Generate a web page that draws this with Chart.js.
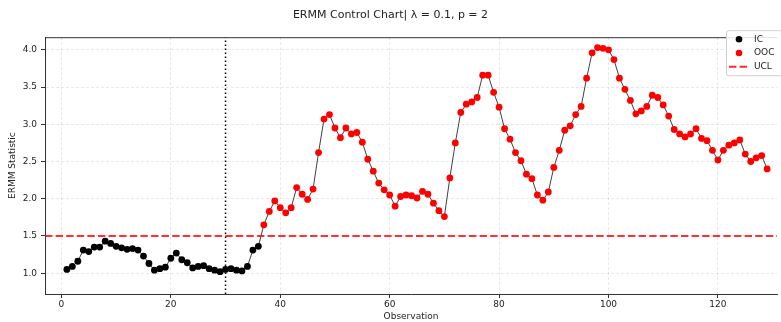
<!DOCTYPE html>
<html>
<head>
<meta charset="utf-8">
<script src="https://cdn.jsdelivr.net/npm/chart.js@4.4.1/dist/chart.umd.min.js"></script>
<style>
html, body { margin: 0; padding: 0; background: #fff; }
</style>
</head>
<body>
<canvas id="ermmChart" width="781" height="322"></canvas>
<script>
// ERMM statistic per observation (obs 1..129)
const ermm = [
  1.05, 1.09, 1.16, 1.31, 1.29, 1.35, 1.35, 1.43, 1.40, 1.36,
  1.34, 1.32, 1.33, 1.31, 1.23, 1.13, 1.04, 1.06, 1.08, 1.20,
  1.27, 1.18, 1.14, 1.07, 1.09, 1.10, 1.06, 1.04, 1.02, 1.05,
  1.06, 1.04, 1.03, 1.09, 1.31, 1.36, 1.65, 1.83, 1.97, 1.88,
  1.81, 1.88, 2.15, 2.06, 1.99, 2.13, 2.62, 3.07, 3.13, 2.95,
  2.82, 2.95, 2.87, 2.89, 2.76, 2.53, 2.37, 2.21, 2.12, 2.05,
  1.90, 2.03, 2.05, 2.04, 2.01, 2.10, 2.06, 1.94, 1.84, 1.76,
  2.28, 2.75, 3.16, 3.27, 3.30, 3.36, 3.66, 3.66, 3.43, 3.23,
  2.94, 2.80, 2.62, 2.51, 2.33, 2.27, 2.05, 1.98, 2.09, 2.42,
  2.65, 2.92, 2.98, 3.13, 3.24, 3.62, 3.96, 4.03, 4.02, 4.00,
  3.87, 3.62, 3.47, 3.32, 3.14, 3.18, 3.24, 3.39, 3.36, 3.26,
  3.11, 2.93, 2.87, 2.83, 2.87, 2.94, 2.81, 2.78, 2.65, 2.52,
  2.65, 2.72, 2.75, 2.79, 2.60, 2.50, 2.55, 2.58, 2.40
];
const ucl = 1.5;
const changePoint = 30;
const xTicks = [0, 20, 40, 60, 80, 100, 120];
const yTicks = [1.0, 1.5, 2.0, 2.5, 3.0, 3.5, 4.0];
const xMin = -3, xMax = 130.8;
const yMin = 0.72, yMax = 4.17;

const pts = ermm.map((v, i) => ({ x: i + 1, y: v }));
const icPts = pts.filter(p => p.y <= ucl);
const oocPts = pts.filter(p => p.y > ucl);

Chart.defaults.font.family = 'DejaVu Sans';
Chart.defaults.color = '#222';

// matplotlib-like framed legend + top spine
const boxLegend = {
  id: 'boxLegend',
  afterDraw(chart) {
    const c = chart.ctx;
    const a = chart.chartArea;
    c.save();
    c.strokeStyle = '#333';
    c.lineWidth = 1;
    c.beginPath();
    c.moveTo(a.left, a.top + 0.5);
    c.lineTo(a.right, a.top + 0.5);
    c.stroke();

    const x0 = a.right - 51, y0 = a.top - 7, w = 60, h = 45;
    c.fillStyle = 'rgba(255,255,255,0.85)';
    c.strokeStyle = '#d0d0d0';
    c.beginPath();
    c.roundRect(x0 + 0.5, y0 + 0.5, w, h, 2);
    c.fill();
    c.stroke();

    c.font = '9px DejaVu Sans';
    c.textBaseline = 'middle';
    c.fillStyle = '#222';
    const rows = [
      { label: 'IC', kind: 'dot', color: '#000' },
      { label: 'OOC', kind: 'dot', color: '#ff0000' },
      { label: 'UCL', kind: 'dash', color: 'rgba(255,0,0,0.85)' }
    ];
    rows.forEach((r, i) => {
      const yy = y0 + 9 + i * 13.8;
      if (r.kind === 'dot') {
        c.fillStyle = r.color;
        c.beginPath();
        c.arc(x0 + 13, yy, 3.3, 0, Math.PI * 2);
        c.fill();
      } else {
        c.strokeStyle = r.color;
        c.lineWidth = 2;
        c.setLineDash([7.4, 3.2]);
        c.beginPath();
        c.moveTo(x0 + 3, yy);
        c.lineTo(x0 + 22, yy);
        c.stroke();
        c.setLineDash([]);
      }
      c.fillStyle = '#222';
      c.fillText(r.label, x0 + 28, yy);
    });
    c.restore();
  }
};

const ctx = document.getElementById('ermmChart').getContext('2d');
const ermmChart = new Chart(ctx, {
  type: 'scatter',
  data: {
    datasets: [
      {
        label: 'UCL',
        data: [{ x: xMin, y: ucl }, { x: xMax, y: ucl }],
        showLine: true,
        borderColor: 'rgba(255,0,0,0.8)',
        borderWidth: 2,
        borderDash: [7.4, 3.2],
        pointRadius: 0,
        order: 0
      },
      {
        label: 'change',
        data: [{ x: changePoint, y: yMin }, { x: changePoint, y: yMax }],
        showLine: true,
        borderColor: '#000',
        borderWidth: 1.5,
        borderDash: [1.5, 2.5],
        pointRadius: 0,
        order: 0
      },
      {
        label: 'IC',
        data: icPts,
        backgroundColor: '#000',
        borderWidth: 0,
        pointRadius: 3.4,
        order: 1
      },
      {
        label: 'OOC',
        data: oocPts,
        backgroundColor: '#ff0000',
        borderWidth: 0,
        pointRadius: 3.4,
        order: 1
      },
      {
        label: 'ERMM',
        data: pts,
        showLine: true,
        borderColor: 'rgba(0,0,0,0.75)',
        borderWidth: 1,
        pointRadius: 0,
        order: 2
      }
    ]
  },
  options: {
    responsive: false,
    animation: false,
    layout: { padding: { left: 0, right: 0, top: 0, bottom: 0 } },
    plugins: {
      legend: { display: false },
      tooltip: { enabled: false },
      title: {
        display: true,
        text: 'ERMM Control Chart| λ = 0.1, p = 2',
        font: { size: 11, weight: 'normal' },
        color: '#222',
        padding: { top: 9, bottom: 15 }
      }
    },
    scales: {
      x: {
        type: 'linear',
        min: xMin,
        max: xMax,
        afterBuildTicks: s => { s.ticks = xTicks.map(v => ({ value: v })); },
        afterFit: s => { s.height = 28; },
        grid: { color: 'rgba(0,0,0,0.09)', tickColor: '#333', tickLength: 4 },
        border: { color: '#333', width: 1, dash: [3, 2] },
        ticks: { font: { size: 9 }, color: '#222', padding: 1, maxRotation: 0 },
        title: { display: true, text: 'Observation', font: { size: 9 }, color: '#222', padding: 0 }
      },
      y: {
        type: 'linear',
        min: yMin,
        max: yMax,
        afterBuildTicks: s => { s.ticks = yTicks.map(v => ({ value: v })); },
        afterFit: s => { s.width = 45; },
        grid: { color: 'rgba(0,0,0,0.09)', tickColor: '#333', tickLength: 4 },
        border: { color: '#333', width: 1, dash: [3, 2] },
        ticks: { font: { size: 9 }, color: '#222', padding: 4, callback: v => v.toFixed(1) },
        title: { display: true, text: 'ERMM Statistic', font: { size: 9 }, color: '#222', padding: { top: 7, bottom: 0 } }
      }
    }
  },
  plugins: [boxLegend]
});
</script>
</body>
</html>
